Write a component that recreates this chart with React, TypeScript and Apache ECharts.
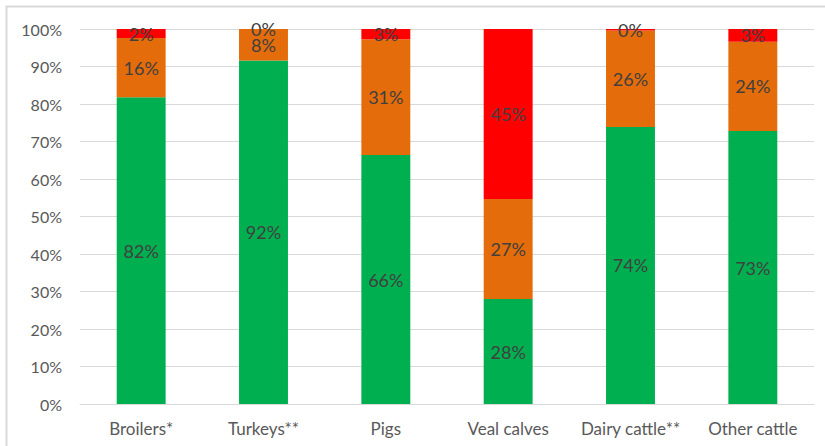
import React, { useEffect, useRef } from "react";
import * as echarts from "echarts";

const categories = ["Broilers*", "Turkeys**", "Pigs", "Veal calves", "Dairy cattle**", "Other cattle"];
const greenValues = [81.8, 91.6, 66.4, 28.0, 73.9, 72.8];
const orangeValues = [15.8, 8.4, 30.9, 26.7, 25.7, 23.8];
const redValues = [2.4, 0, 2.7, 45.3, 0.4, 3.4];
const yTicks = [0, 10, 20, 30, 40, 50, 60, 70, 80, 90, 100];

const FONT = "Lato, 'Open Sans', sans-serif";

export default function App() {
  const ref = useRef<HTMLDivElement>(null);
  useEffect(() => {
    document.body.style.margin = "0";
    const chart = echarts.init(ref.current!, null, { renderer: "svg" });
    const label = {
      show: true,
      position: "inside" as const,
      color: "#404040",
      fontSize: 18,
      fontFamily: FONT,
      formatter: (p: any) => Math.round(p.value) + "%",
    };
    const mk = (name: string, data: number[], color: string) => ({
      name,
      type: "bar",
      stack: "total",
      data,
      barWidth: "40%",
      itemStyle: { color },
      label,
      emphasis: { disabled: true },
    });
    chart.setOption({
      animation: false,
      grid: { left: 80, right: 11, top: 29, bottom: 42, containLabel: false },
      graphic: [
        {
          type: "rect",
          shape: { x: 6.5, y: 6.5, width: 900, height: 500 },
          style: { fill: "none", stroke: "#D9D9D9", lineWidth: 2 },
          silent: true,
        },
      ],
      xAxis: {
        type: "category",
        data: categories,
        axisLine: { show: true, lineStyle: { color: "#D9D9D9", width: 1 } },
        axisTick: { show: false },
        axisLabel: { color: "#595959", fontSize: 17, fontFamily: FONT, margin: 16, interval: 0, hideOverlap: false },
      },
      yAxis: {
        type: "value",
        min: yTicks[0],
        max: yTicks[yTicks.length - 1],
        interval: 10,
        axisLine: { show: false },
        axisTick: { show: false },
        splitLine: { lineStyle: { color: "#D9D9D9", width: 1 } },
        axisLabel: { color: "#595959", fontSize: 16, fontFamily: FONT, margin: 18, formatter: "{value}%" },
      },
      series: [
        mk("Green", greenValues, "#00B050"),
        mk("Orange", orangeValues, "#E46C0A"),
        mk("Red", redValues, "#FF0000"),
      ],
    });
    return () => chart.dispose();
  }, []);
  return <div ref={ref} style={{ width: 825, height: 446 }} />;
}
